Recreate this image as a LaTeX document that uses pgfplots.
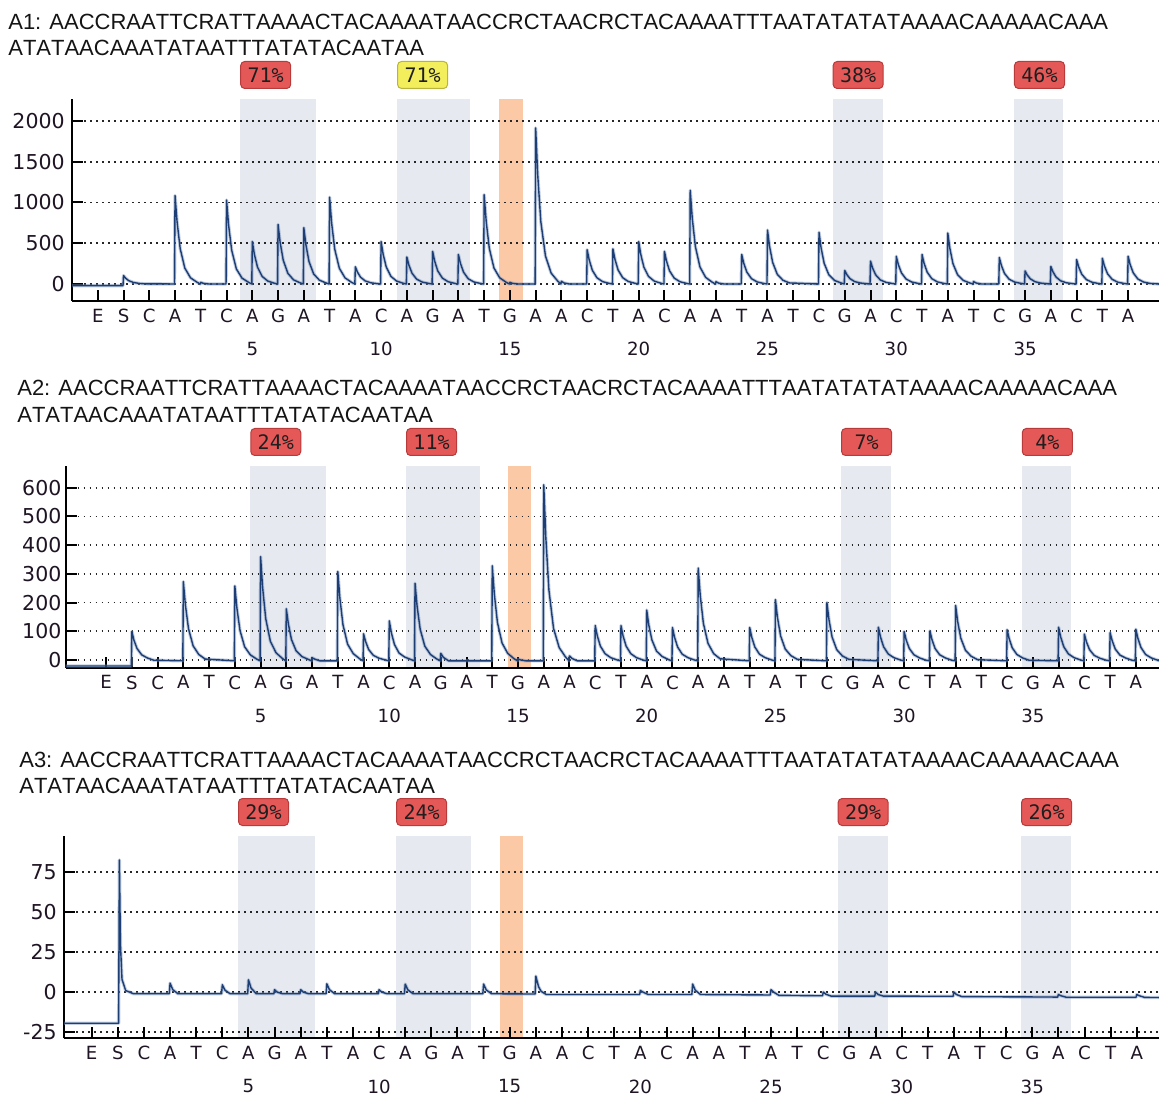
\documentclass[border=0pt]{standalone}
\usepackage{fontspec}
\usepackage{pgfplots}
\pgfplotsset{compat=1.18}
\newfontfamily\titlefont{Liberation Sans}[Kerning=Off]
\newfontfamily\tickfont{DejaVu Sans}
\newfontfamily\badgefont{DejaVu Sans Mono}
\definecolor{band}{RGB}{230,234,240}
\definecolor{orangeband}{RGB}{252,201,166}
\definecolor{tracecol}{RGB}{28,62,116}
\definecolor{halocol}{RGB}{120,145,185}
\definecolor{badgered}{RGB}{228,88,88}
\definecolor{badgeredd}{RGB}{185,58,58}
\definecolor{badgeyel}{RGB}{242,238,92}
\definecolor{badgeyeld}{RGB}{185,180,60}
\definecolor{lettercol}{RGB}{30,20,35}
\tikzset{badge/.style={rounded corners=2.4pt, line width=0.6pt, minimum width=30pt, minimum height=16.2pt, inner sep=0pt, anchor=south west, yshift=6pt, font=\badgefont\fontsize{12pt}{13pt}\selectfont, text=black!88},
 ttl/.style={anchor=base west, inner sep=0pt, font=\titlefont\fontsize{13.2pt}{15pt}\selectfont, text=black!92}}
\pgfplotsset{
  pyro/.style={
    set layers,
    scale only axis,
    clip=false,
    axis lines*=left,
    axis line style={black, line width=1.2pt},
    tick align=inside,
    major tick length=6.6pt,
    tick style={black, line width=1.2pt},
    xtick={-1,0,...,39},
    xticklabels={E,S,C,A,T,C,A,G,A,T,A,C,A,G,A,T,G,A,A,C,T,A,C,A,A,T,A,T,C,G,A,C,T,A,T,C,G,A,C,T,A},
    x tick label style={font=\tickfont\fontsize{10.9pt}{12pt}\selectfont, text=lettercol, anchor=north, inner sep=0pt},
    xticklabel shift=4.5pt,
    y tick label style={font=\tickfont\fontsize{12.3pt}{14pt}\selectfont, text=lettercol, anchor=east, inner sep=0pt},
    yticklabel shift=4.2pt,
    extra x ticks={5,10,...,35},
    extra x tick labels={5,10,15,20,25,30,35},
    extra x tick style={major tick length=0pt, tick label style={font=\tickfont\fontsize{12pt}{14pt}\selectfont, text=lettercol, yshift=-20.1pt}},
    ymajorgrids=true,
    major grid style={draw=black!85, line width=1pt, dash pattern=on 1pt off 2.6pt},
    /pgf/number format/assume math mode=true,
    /pgf/number format/1000 sep={},
    scaled y ticks=false,
  },
  pyrotrace/.style={tracecol, line width=0.84pt, line join=round, preaction={draw, halocol, opacity=0.45, line width=2pt, line join=round}},
}
\begin{document}
\begin{tikzpicture}
\node[ttl] at (4.8pt,640.2pt) {A1: AACCRAATTCRATTAAAACTACAAAATAACCRCTAACRCTACAAAATTTAATATATATAAAACAAAAACAAA};
\node[ttl] at (4.8pt,624.6pt) {ATATAACAAATATAATTTATATACAATAA};
\node[ttl] at (10.2pt,420.6pt) {A2: AACCRAATTCRATTAAAACTACAAAATAACCRCTAACRCTACAAAATTTAATATATATAAAACAAAAACAAA};
\node[ttl] at (10.2pt,404.4pt) {ATATAACAAATATAATTTATATACAATAA};
\node[ttl] at (11.4pt,197.4pt) {A3: AACCRAATTCRATTAAAACTACAAAATAACCRCTAACRCTACAAAATTTAATATATATAAAACAAAAACAAA};
\node[ttl] at (11.4pt,181.8pt) {ATATAACAAATATAATTTATATACAATAA};

% ---------------- A1
\begin{axis}[pyro, at={(43.2pt,477.6pt)}, anchor=south west, width=652.2pt, height=121.2pt,
  xmin=-2.0, xmax=40.2, ymin=-208.6, ymax=2270, ytick={0,500,1000,1500,2000}]
\begin{pgfonlayer}{axis background}
\fill[band] (axis cs:4.53,-208.6) rectangle (axis cs:7.47,2270);
\fill[band] (axis cs:10.62,-208.6) rectangle (axis cs:13.47,2270);
\fill[orangeband] (axis cs:14.56,-208.6) rectangle (axis cs:15.5,2270);
\fill[band] (axis cs:27.53,-208.6) rectangle (axis cs:29.47,2270);
\fill[band] (axis cs:34.57,-208.6) rectangle (axis cs:36.46,2270);
\end{pgfonlayer}
\addplot[pyrotrace] coordinates {
(-2.0,-20) (-0.02,-20) (0,103) (0.08,72) (0.2,41) (0.38,19) (0.6,7) (0.85,2)
(1.98,0) (2,1085) (2.08,760) (2.2,434) (2.38,195) (2.6,76) (2.85,22)
(2.98,0) (3,20) (3.1,8) (3.3,0)
(3.98,0) (4,1030) (4.08,721) (4.2,412) (4.38,185) (4.6,72) (4.85,21)
(4.98,0) (5,520) (5.08,364) (5.2,208) (5.38,94) (5.6,36) (5.85,10)
(5.98,0) (6,730) (6.08,511) (6.2,292) (6.38,131) (6.6,51) (6.85,15)
(6.98,0) (7,690) (7.08,483) (7.2,276) (7.38,124) (7.6,48) (7.85,14)
(7.98,0) (8,1065) (8.08,746) (8.2,426) (8.38,192) (8.6,75) (8.85,21)
(8.98,0) (9,210) (9.08,147) (9.2,84) (9.38,38) (9.6,15) (9.85,4)
(9.98,0) (10,520) (10.08,364) (10.2,208) (10.38,94) (10.6,36) (10.85,10)
(10.98,0) (11,330) (11.08,231) (11.2,132) (11.38,59) (11.6,23) (11.85,7)
(11.98,0) (12,400) (12.08,280) (12.2,160) (12.38,72) (12.6,28) (12.85,8)
(12.98,0) (13,362) (13.08,253) (13.2,145) (13.38,65) (13.6,25) (13.85,7)
(13.98,0) (14,1095) (14.08,767) (14.2,438) (14.38,197) (14.6,77) (14.85,22)
(14.98,0) (15,20) (15.1,8) (15.3,0)
(15.98,0) (16,1915) (16.08,1340) (16.2,766) (16.38,345) (16.6,134) (16.85,38)
(16.98,0) (17,33) (17.1,13) (17.3,0)
(17.98,0) (18,420) (18.08,294) (18.2,168) (18.38,76) (18.6,29) (18.85,8)
(18.98,0) (19,430) (19.08,301) (19.2,172) (19.38,77) (19.6,30) (19.85,9)
(19.98,0) (20,520) (20.08,364) (20.2,208) (20.38,94) (20.6,36) (20.85,10)
(20.98,0) (21,400) (21.08,280) (21.2,160) (21.38,72) (21.6,28) (21.85,8)
(21.98,0) (22,1150) (22.08,805) (22.2,460) (22.38,207) (22.6,81) (22.85,23)
(22.98,0) (23,28) (23.1,11) (23.3,0)
(23.98,0) (24,362) (24.08,253) (24.2,145) (24.38,65) (24.6,25) (24.85,7)
(24.98,0) (25,662) (25.08,463) (25.2,265) (25.38,119) (25.6,46) (25.85,13)
(26.98,0) (27,635) (27.08,445) (27.2,254) (27.38,114) (27.6,44) (27.85,13)
(27.98,0) (28,165) (28.08,116) (28.2,66) (28.38,30) (28.6,12) (28.85,3)
(28.98,0) (29,280) (29.08,196) (29.2,112) (29.38,50) (29.6,20) (29.85,6)
(29.98,0) (30,340) (30.08,238) (30.2,136) (30.38,61) (30.6,24) (30.85,7)
(30.98,0) (31,362) (31.08,253) (31.2,145) (31.38,65) (31.6,25) (31.85,7)
(31.98,0) (32,625) (32.08,438) (32.2,250) (32.38,113) (32.6,44) (32.85,13)
(32.98,0) (33,30) (33.1,12) (33.3,0)
(33.98,0) (34,325) (34.08,228) (34.2,130) (34.38,59) (34.6,23) (34.85,7)
(34.98,0) (35,160) (35.08,112) (35.2,64) (35.38,29) (35.6,11) (35.85,3)
(35.98,0) (36,215) (36.08,151) (36.2,86) (36.38,39) (36.6,15) (36.85,4)
(36.98,0) (37,300) (37.08,210) (37.2,120) (37.38,54) (37.6,21) (37.85,6)
(37.98,0) (38,315) (38.08,221) (38.2,126) (38.38,57) (38.6,22) (38.85,6)
(38.98,0) (39,340) (39.08,238) (39.2,136) (39.38,61) (39.6,24) (39.85,7) (40.2,0)
};
\node[badge, fill=badgered, draw=badgeredd] at (axis cs:4.53,2270) {71\%};
\node[badge, fill=badgeyel, draw=badgeyeld] at (axis cs:10.62,2270) {71\%};
\node[badge, fill=badgered, draw=badgeredd] at (axis cs:27.53,2270) {38\%};
\node[badge, fill=badgered, draw=badgeredd] at (axis cs:34.57,2270) {46\%};
\end{axis}

% ---------------- A2
\begin{axis}[pyro, at={(39.42pt,257.58pt)}, anchor=south west, width=655.98pt, height=121.02pt,
  xmin=-2.57, xmax=39.9, ymin=-27, ymax=676, ytick={0,100,200,300,400,500,600}, yticklabel shift=2.4pt]
\begin{pgfonlayer}{axis background}
\fill[band] (axis cs:4.6,-27) rectangle (axis cs:7.55,676);
\fill[band] (axis cs:10.65,-27) rectangle (axis cs:13.52,676);
\fill[orangeband] (axis cs:14.62,-27) rectangle (axis cs:15.52,676);
\fill[band] (axis cs:27.55,-27) rectangle (axis cs:29.49,676);
\fill[band] (axis cs:34.57,-27) rectangle (axis cs:36.47,676);
\end{pgfonlayer}
\addplot[pyrotrace] coordinates {
(-2.57,-21) (-0.02,-21) (0,99) (0.08,69) (0.2,40) (0.38,18) (0.6,7) (0.85,-1)
(1.98,-3) (2,273) (2.08,191) (2.2,109) (2.38,49) (2.6,19) (2.85,3)
(3.98,-3) (4,258) (4.08,181) (4.2,103) (4.38,46) (4.6,18) (4.85,3)
(4.98,-3) (5,360) (5.08,252) (5.2,144) (5.38,65) (5.6,25) (5.85,5)
(5.98,-3) (6,178) (6.08,125) (6.2,71) (6.38,32) (6.6,12) (6.85,2)
(6.98,-3) (7,8) (7.1,3) (7.3,-3)
(7.98,-3) (8,308) (8.08,216) (8.2,123) (8.38,55) (8.6,22) (8.85,4)
(8.98,-3) (9,91) (9.08,64) (9.2,36) (9.38,16) (9.6,6) (9.85,0)
(9.98,-3) (10,136) (10.08,95) (10.2,54) (10.38,24) (10.6,10) (10.85,1)
(10.98,-3) (11,267) (11.08,187) (11.2,107) (11.38,48) (11.6,19) (11.85,3)
(11.98,-3) (12,23) (12.1,9) (12.3,-3)
(13.98,-3) (14,328) (14.08,230) (14.2,131) (14.38,59) (14.6,23) (14.85,4)
(14.98,-3) (15,3) (15.1,0) (15.3,-3)
(15.98,-3) (16,610) (16.08,427) (16.2,244) (16.38,110) (16.6,43) (16.85,10)
(16.98,-3) (17,14) (17.1,5) (17.3,-3)
(17.98,-3) (18,120) (18.08,84) (18.2,48) (18.38,22) (18.6,8) (18.85,0)
(18.98,-3) (19,120) (19.08,84) (19.2,48) (19.38,22) (19.6,8) (19.85,0)
(19.98,-3) (20,174) (20.08,122) (20.2,70) (20.38,31) (20.6,12) (20.85,1)
(20.98,-3) (21,113) (21.08,79) (21.2,45) (21.38,20) (21.6,8) (21.85,0)
(21.98,-3) (22,320) (22.08,224) (22.2,128) (22.38,58) (22.6,22) (22.85,4)
(23.98,-3) (24,113) (24.08,79) (24.2,45) (24.38,20) (24.6,8) (24.85,0)
(24.98,-3) (25,210) (25.08,147) (25.2,84) (25.38,38) (25.6,15) (25.85,2)
(26.98,-3) (27,200) (27.08,140) (27.2,80) (27.38,36) (27.6,14) (27.85,2)
(28.98,-3) (29,114) (29.08,80) (29.2,46) (29.38,21) (29.6,8) (29.85,0)
(29.98,-3) (30,99) (30.08,69) (30.2,40) (30.38,18) (30.6,7) (30.85,-1)
(30.98,-3) (31,101) (31.08,71) (31.2,40) (31.38,18) (31.6,7) (31.85,-1)
(31.98,-3) (32,190) (32.08,133) (32.2,76) (32.38,34) (32.6,13) (32.85,1)
(33.98,-3) (34,105) (34.08,74) (34.2,42) (34.38,19) (34.6,7) (34.85,-1)
(35.98,-3) (36,114) (36.08,80) (36.2,46) (36.38,21) (36.6,8) (36.85,0)
(36.98,-3) (37,90) (37.08,63) (37.2,36) (37.38,16) (37.6,6) (37.85,-1)
(37.98,-3) (38,95) (38.08,67) (38.2,38) (38.38,17) (38.6,7) (38.85,-1)
(38.98,-3) (39,107) (39.08,75) (39.2,43) (39.38,19) (39.6,7) (39.85,-1) (39.9,-3)
};
\node[badge, fill=badgered, draw=badgeredd] at (axis cs:4.6,676) {24\%};
\node[badge, fill=badgered, draw=badgeredd] at (axis cs:10.65,676) {11\%};
\node[badge, fill=badgered, draw=badgeredd] at (axis cs:27.55,676) {7\%};
\node[badge, fill=badgered, draw=badgeredd] at (axis cs:34.57,676) {4\%};
\end{axis}

% ---------------- A3
\begin{axis}[pyro, at={(38.4pt,35.22pt)}, anchor=south west, width=657pt, height=121.38pt,
  xmin=-2.06, xmax=39.85, ymin=-28.9, ymax=97.7, ytick={-25,0,25,50,75}]
\begin{pgfonlayer}{axis background}
\fill[band] (axis cs:4.6,-28.9) rectangle (axis cs:7.55,97.7);
\fill[band] (axis cs:10.65,-28.9) rectangle (axis cs:13.52,97.7);
\fill[orangeband] (axis cs:14.62,-28.9) rectangle (axis cs:15.52,97.7);
\fill[band] (axis cs:27.55,-28.9) rectangle (axis cs:29.49,97.7);
\fill[band] (axis cs:34.57,-28.9) rectangle (axis cs:36.47,97.7);
\end{pgfonlayer}
\addplot[pyrotrace] coordinates {
(-2.06,-19.5) (0.03,-19.5) (0.06,82.7) (0.1,30) (0.16,8) (0.3,1) (0.6,-1)
(1.97,-1) (2,5.6) (2.1,1.6) (2.3,-1)
(3.97,-1) (4,4.6) (4.1,1.2) (4.3,-1)
(4.97,-1) (5,7.7) (5.1,2.5) (5.3,-1)
(5.97,-1) (6,1.5) (6.1,0) (6.3,-1)
(6.97,-1) (7,1.5) (7.1,0) (7.3,-1)
(7.97,-1) (8,5.2) (8.1,1.5) (8.3,-1)
(9.97,-1) (10,1.5) (10.1,0) (10.3,-1)
(10.97,-1) (11,5) (11.1,1.4) (11.3,-1)
(13.97,-1) (14,5) (14.1,1.4) (14.3,-1)
(15.97,-1.2) (16,10) (16.1,3.5) (16.2,0.5) (16.4,-1.5)
(19.97,-1.5) (20,1) (20.1,0) (20.3,-1.5)
(21.97,-1.5) (22,5) (22.1,1.2) (22.3,-1.5)
(24.97,-1.8) (25,1.5) (25.1,0) (25.3,-2)
(26.97,-2.3) (27,0) (27.1,-1.3) (27.3,-2.5)
(28.97,-2.5) (29,0) (29.1,-1.5) (29.3,-2.5)
(31.97,-2.6) (32,0) (32.1,-1.5) (32.3,-2.8)
(35.97,-3.1) (36,-1.5) (36.1,-2.3) (36.3,-3.2)
(38.97,-3.2) (39,-1.5) (39.1,-2.3) (39.3,-3.3) (39.85,-3.4)
};
\node[badge, fill=badgered, draw=badgeredd] at (axis cs:4.6,97.7) {29\%};
\node[badge, fill=badgered, draw=badgeredd] at (axis cs:10.65,97.7) {24\%};
\node[badge, fill=badgered, draw=badgeredd] at (axis cs:27.55,97.7) {29\%};
\node[badge, fill=badgered, draw=badgeredd] at (axis cs:34.57,97.7) {26\%};
\end{axis}
\pgfresetboundingbox
\useasboundingbox (0,0) rectangle (695.4pt,658.2pt);
\end{tikzpicture}
\end{document}
